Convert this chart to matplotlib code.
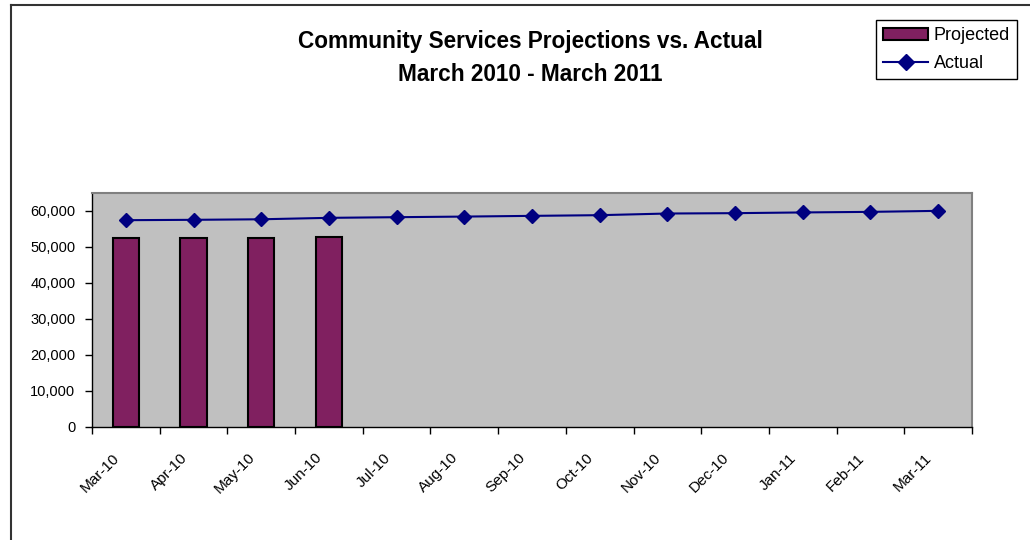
import matplotlib.pyplot as plt
import numpy as np
from matplotlib.lines import Line2D
from matplotlib.patches import Patch

months = ["Mar-10", "Apr-10", "May-10", "Jun-10", "Jul-10", "Aug-10", "Sep-10",
          "Oct-10", "Nov-10", "Dec-10", "Jan-11", "Feb-11", "Mar-11"]
projected = [52500, 52500, 52500, 52700]
actual = [57450, 57550, 57700, 58100, 58280, 58450, 58650,
          58840, 59300, 59400, 59600, 59760, 60040]

plt.rcParams["font.family"] = ["Liberation Sans", "DejaVu Sans"]
plt.rcParams["font.size"] = 10.5

fig = plt.figure(figsize=(10.3, 5.4), dpi=100)
ax = fig.add_axes([92 / 1030, 113 / 540, 880 / 1030, 234 / 540])
ax.set_facecolor("#C0C0C0")

x = np.arange(len(months))
ax.bar(x[:len(projected)], projected, width=0.39, color="#802060",
       edgecolor="black", linewidth=1.5, zorder=2)
ax.plot(x, actual, color="#000080", lw=1.5, marker="D", ms=7, zorder=3)

ax.set_xlim(-0.5, len(months) - 0.5)
ax.set_ylim(0, 65000)
ax.set_yticks(np.arange(0, 60001, 10000))
ax.set_yticklabels([f"{v:,}" for v in range(0, 60001, 10000)])

# tick marks at category boundaries, labels slightly left of centre
ax.set_xticks(np.arange(-0.5, len(months)), minor=True)
ax.set_xticks(x - 0.2)
ax.set_xticklabels(months, rotation=45, ha="right", va="top", rotation_mode="anchor",
                   fontsize=11)
ax.tick_params(axis="x", which="major", length=0, pad=17)
ax.tick_params(axis="x", which="minor", length=5, width=1, direction="out")
ax.tick_params(axis="y", length=5, width=1, pad=7)

for s in ["left", "bottom"]:
    ax.spines[s].set_color("black")
    ax.spines[s].set_linewidth(1)
for s in ["top", "right"]:
    ax.spines[s].set_color("#808080")
    ax.spines[s].set_linewidth(1.5)

fig.text(530 / 1030, 1 - 58 / 540, "Community Services Projections vs. Actual\nMarch 2010 - March 2011",
         ha="center", va="center", fontsize=16.3, fontweight="bold", linespacing=1.55)

handles = [Patch(facecolor="#802060", edgecolor="black", linewidth=1.5),
           Line2D([], [], color="#000080", lw=1.5, marker="D", ms=8)]
leg = fig.legend(handles, ["Projected", "Actual"], loc="upper right",
                 bbox_to_anchor=(1017 / 1030, 1 - 20 / 540), fancybox=False,
                 edgecolor="black", framealpha=1, fontsize=13,
                 handlelength=2.5, handletextpad=0.28, borderpad=0.4, labelspacing=0.6,
                 borderaxespad=0)
leg.get_frame().set_linewidth(1)

# outer chart border (left and top edges visible)
fig.add_artist(Line2D([11 / 1030, 11 / 1030], [0, 1 - 5 / 540], color="#333333", lw=1.5))
fig.add_artist(Line2D([11 / 1030, 1], [1 - 5 / 540, 1 - 5 / 540], color="#333333", lw=1.5))

fig.savefig("out.png", dpi=100)
